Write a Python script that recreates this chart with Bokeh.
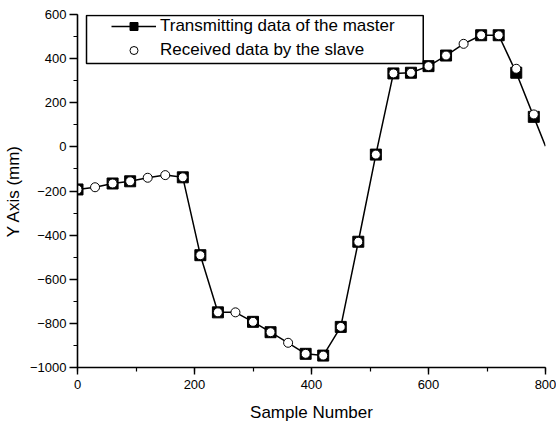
from bokeh.plotting import figure
from bokeh.models import Legend, LegendItem, SingleIntervalTicker, BoxAnnotation, Range1d
from bokeh.embed import file_html
from bokeh.resources import INLINE

# ---- data ----
sample_x = [0, 30, 60, 90, 120, 150, 180, 210, 240, 270, 300, 330, 360, 390,
            420, 450, 480, 510, 540, 570, 600, 630, 660, 690, 720, 750, 780]
master_y = [-193, -183, -166, -156, -140, -128, -138, -491, -750, -750, -793,
            -840, -888, -938, -946, -816, -430, -35, 333, 336, 366, 414, 467,
            506, 506, 336, 136]
slave_y = [-193, -183, -166, -156, -140, -128, -138, -491, -750, -750, -793,
           -840, -888, -938, -946, -816, -430, -35, 333, 336, 366, 414, 467,
           506, 506, 354, 147]
# samples at which the master's square symbol is visible
master_marked = [1, 0, 1, 1, 0, 0, 1, 1, 1, 0, 1, 1, 0, 1,
                 1, 1, 1, 1, 1, 1, 1, 1, 0, 1, 1, 1, 1]
# end of the master trace at the right edge
tail_x = [800]
tail_y = [3]

x_ticks_interval = 200
y_ticks_interval = 200

FONT = "Liberation Sans"

line_x = sample_x + tail_x
line_y = master_y + tail_y
sq_x = [x for x, m in zip(sample_x, master_marked) if m]
sq_y = [y for y, m in zip(master_y, master_marked) if m]

p = figure(
    frame_width=468, frame_height=353,
    min_border_left=73, min_border_right=11, min_border_top=14, min_border_bottom=50,
    x_range=Range1d(0, 800), y_range=Range1d(-1000, 600),
    output_backend="svg", toolbar_location=None,
)
p.outline_line_color = None
p.xgrid.visible = False
p.ygrid.visible = False
p.background_fill_color = "white"
p.border_fill_color = "white"

for ax, interval in ((p.xaxis[0], x_ticks_interval), (p.yaxis[0], y_ticks_interval)):
    ax.ticker = SingleIntervalTicker(interval=interval, num_minor_ticks=2)
    ax.axis_line_width = 1.6
    ax.axis_line_color = "black"
    ax.major_tick_line_width = 1.4
    ax.minor_tick_line_width = 1.2
    ax.major_tick_in = 0
    ax.minor_tick_in = 0
    ax.minor_tick_out = 4
    ax.major_label_text_font = FONT
    ax.major_label_text_font_size = "13px"
    ax.major_label_text_color = "black"
    ax.axis_label_text_font = FONT
    ax.axis_label_text_font_size = "17px"
    ax.axis_label_text_font_style = "normal"
    ax.axis_label_text_color = "black"

p.xaxis.axis_label = "Sample Number"
p.yaxis.axis_label = "Y Axis (mm)"
p.xaxis.major_tick_out = 7
p.yaxis.major_tick_out = 8
p.xaxis.major_label_standoff = 5
p.yaxis.major_label_standoff = 3
p.xaxis.axis_label_standoff = 11
p.yaxis.axis_label_standoff = 4

line_r = p.line(line_x, line_y, line_color="black", line_width=1.5)
sq_r = p.scatter(sq_x, sq_y, marker="square", size=11, fill_color="black",
                 line_color="black", line_width=1)
circ_r = p.scatter(sample_x, slave_y, marker="circle", size=9, fill_color="white",
                   line_color="black", line_width=1)

# legend frame
box = BoxAnnotation(left=15.4, right=591, top=596, bottom=378,
                    fill_alpha=0, line_color="black", line_width=1.5, line_alpha=1)
p.add_layout(box)

legend = Legend(
    items=[
        LegendItem(label="Transmitting data of the master", renderers=[line_r, sq_r]),
        LegendItem(label="Received data by the slave", renderers=[circ_r]),
    ],
    location=(34, 307), padding=0, margin=0, spacing=4,
    glyph_width=45, glyph_height=20, label_height=20, label_standoff=4,
    border_line_color=None, background_fill_alpha=0,
    label_text_font=FONT, label_text_font_size="17px", label_text_color="black",
)
p.add_layout(legend)

open("out.html", "w").write(file_html(p, INLINE))
